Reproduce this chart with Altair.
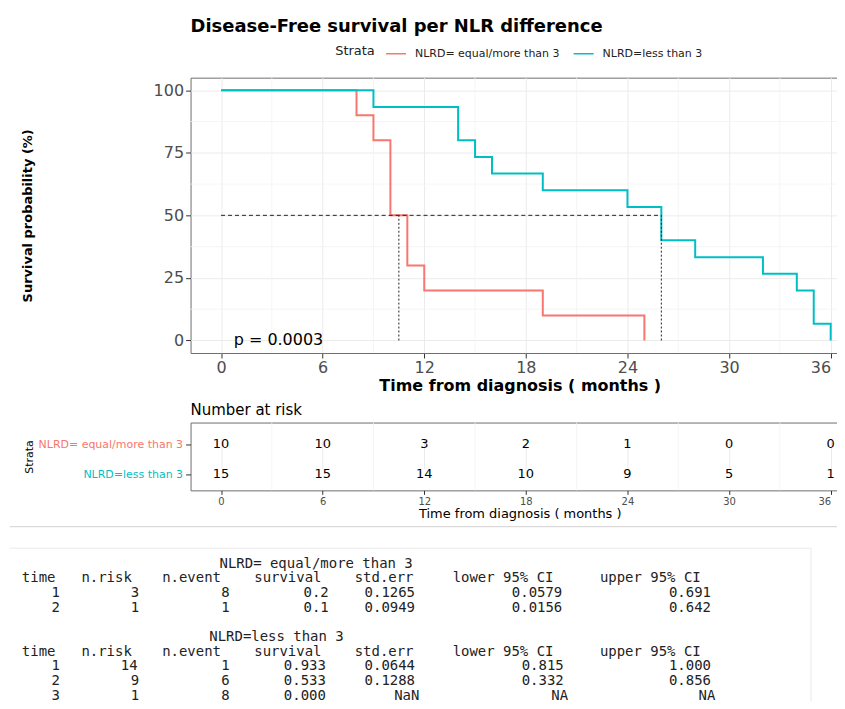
import altair as alt
import pandas as pd

FONT = "DejaVu Sans"
MONO = "DejaVu Sans Mono"

# ---------------- data ----------------
chart_title = "Disease-Free survival per NLR difference"
risk_title = "Number at risk"
x_title = "Time from diagnosis ( months )"
y_title = "Survival probability (%)"

strata = ["NLRD= equal/more than 3", "NLRD=less than 3"]
strata_colors = ["#F8766D", "#00BFC4"]

red_time = [0, 8, 9, 10, 11, 12, 19, 25]
red_surv = [100, 90, 80, 50, 30, 20, 10, 0]
teal_time = [0, 9, 14, 15, 16, 19, 24, 26, 28, 32, 34, 35, 36]
teal_surv = [100, 93.3, 80, 73.3, 66.7, 60, 53.3, 40, 33.3, 26.7, 20, 6.7, 0]

median_time = [10.5, 26]
median_surv = [50, 50]

p_label = ["p = 0.0003"]
p_time = [0.75]
p_surv = [0]

risk_time = [0, 6, 12, 18, 24, 30, 36]
risk_red = [10, 10, 3, 2, 1, 0, 0]
risk_teal = [15, 15, 14, 10, 9, 5, 1]

x_ticks = [0, 6, 12, 18, 24, 30, 36]
x_minor = [3, 9, 15, 21, 27, 33]
y_ticks = [0, 25, 50, 75, 100]
y_minor = [12.5, 37.5, 62.5, 87.5]

table_header = ["time", "n.risk", "n.event", "survival", "std.err",
                "lower 95% CI", "upper 95% CI"]
table_groups = ["NLRD= equal/more than 3", "NLRD=less than 3"]
table_rows = [
    [["1", "3", "8", "0.2", "0.1265", "0.0579", "0.691"],
     ["2", "1", "1", "0.1", "0.0949", "0.0156", "0.642"]],
    [["1", "14", "1", "0.933", "0.0644", "0.815", "1.000"],
     ["2", "9", "6", "0.533", "0.1288", "0.332", "0.856"],
     ["3", "1", "8", "0.000", "NaN", "NA", "NA"]],
]

# character columns of the console print-out (layout)
col_end = [4, 11, 19, 28, 36, 49, 62]
group_start = 15

# ---------------- tables ----------------
km = pd.DataFrame({
    "time": red_time + teal_time,
    "surv": red_surv + teal_surv,
    "strata": [strata[0]] * len(red_time) + [strata[1]] * len(teal_time),
})
med_h = pd.DataFrame({"time": [0], "t1": [max(median_time)], "surv": [median_surv[0]]})
med_v = pd.DataFrame({"time": median_time, "surv": [0] * len(median_time), "s1": median_surv})
pval = pd.DataFrame({"time": p_time, "surv": p_surv, "label": p_label})
risk = pd.DataFrame({
    "time": risk_time * 2,
    "strata": [strata[0]] * len(risk_time) + [strata[1]] * len(risk_time),
    "n": risk_red + risk_teal,
})

# console text: each field is centred on the character span it occupies
cells = []
line = 0
for g, rows in zip(table_groups, table_rows):
    cells.append({"line": line, "char": group_start + len(g) / 2, "txt": g})
    line += 1
    for h, e in zip(table_header, col_end):
        cells.append({"line": line, "char": e - len(h) / 2, "txt": h})
    line += 1
    for r in rows:
        for v, e in zip(r, col_end):
            cells.append({"line": line, "char": e - len(v) / 2, "txt": v})
        line += 1
    line += 1
cells = pd.DataFrame(cells)

W = 656

# ---------------- main KM plot ----------------
xs = alt.Scale(domain=[-1.8, 36.845], nice=False, zero=False)
ys = alt.Scale(domain=[-5, 105], nice=False, zero=False)

x_axis = alt.Axis(values=x_ticks, title=x_title,
                  titleFontSize=16, titleFontWeight="bold", titleColor="black",
                  titlePadding=2, titleX=330, labelFontSize=16, labelColor="#4D4D4D",
                  labelPadding=2, tickSize=5, tickColor="#333333", domain=False,
                  grid=True, gridColor="#EBEBEB", labelFlush=16)
y_axis = alt.Axis(values=y_ticks, title=y_title,
                  titleFontSize=13, titleFontWeight="bold", titleColor="black",
                  titleX=-156, titleY=138, labelFontSize=16, labelColor="#4D4D4D",
                  labelPadding=2, tickSize=5, tickColor="#333333", domain=False,
                  grid=True, gridColor="#EBEBEB")

XE = alt.X("time:Q", scale=xs, axis=x_axis, title=x_title)
YE = alt.Y("surv:Q", scale=ys, axis=y_axis, title=y_title)

legend = alt.Legend(orient="none", legendX=145, legendY=-35, direction="horizontal",
                    titleOrient="left", title="Strata", titleFontSize=13,
                    titleFontWeight="normal", titleColor="#222222", titlePadding=10,
                    labelFontSize=11, labelColor="#222222", labelOffset=8,
                    labelLimit=300, columnPadding=11, symbolType="stroke",
                    symbolSize=400, symbolStrokeWidth=1.5)

one = pd.DataFrame({"k": [0]})

gx = alt.Chart(pd.DataFrame({"time": x_minor})).mark_rule(
    color="#F3F3F3", strokeWidth=0.8).encode(x=XE)
gy = alt.Chart(pd.DataFrame({"surv": y_minor})).mark_rule(
    color="#F3F3F3", strokeWidth=0.8).encode(y=YE)
lines = alt.Chart(km).mark_line(interpolate="step-after", strokeWidth=2).encode(
    x=XE, y=YE,
    color=alt.Color("strata:N", scale=alt.Scale(domain=strata, range=strata_colors),
                    legend=legend),
)
mh = alt.Chart(med_h).mark_rule(color="#222222", strokeWidth=1, strokeDash=[4, 3]).encode(
    x=XE, x2="t1:Q", y=YE)
mv = alt.Chart(med_v).mark_rule(color="#222222", strokeWidth=1, strokeDash=[2, 2]).encode(
    x=XE, y=YE, y2="s1:Q")
pt = alt.Chart(pval).mark_text(align="left", baseline="middle", fontSize=16,
                               color="black").encode(x=XE, y=YE, text="label:N")
title_mark = alt.Chart(one).mark_text(
    text=chart_title, fontSize=18, fontWeight="bold", color="black",
    align="left", baseline="alphabetic").encode(x=alt.value(0), y=alt.value(-46))

main = alt.layer(gx, gy, lines, mh, mv, pt, title_mark).properties(width=W, height=276)

# ---------------- risk table ----------------
risk_x_axis = alt.Axis(values=x_ticks, title=x_title,
                       titleFontSize=13, titleFontWeight="normal", titleColor="black",
                       titlePadding=1, titleX=330, labelFontSize=10, labelColor="#4D4D4D",
                       labelPadding=2, tickSize=4, tickColor="#333333", domain=False,
                       grid=True, gridColor="#EBEBEB", labelFlush=16)
risk_y_axis = alt.Axis(title="Strata", titleFontSize=11, titleFontWeight="normal",
                       titleColor="black", titleX=-156.5, titleY=34,
                       labelFontSize=11,
                       labelColor={"condition": {"test": f"datum.value === '{strata[0]}'",
                                                 "value": strata_colors[0]},
                                   "value": strata_colors[1]},
                       labelPadding=3, tickSize=5, tickColor="#333333",
                       domain=False, grid=False, labelLimit=300)

RX = alt.X("time:Q", scale=xs, axis=risk_x_axis, title=x_title)

rgrid = alt.Chart(pd.DataFrame({"time": x_minor})).mark_rule(
    color="#F3F3F3", strokeWidth=0.8).encode(x=RX)
rtext = alt.Chart(risk).mark_text(fontSize=13, color="black", baseline="middle").encode(
    x=RX,
    y=alt.Y("strata:N", sort=strata,
            scale=alt.Scale(type="point", domain=strata, range=[22, 52], padding=0),
            axis=risk_y_axis),
    text="n:Q")
rtitle = alt.Chart(one).mark_text(
    text=risk_title, fontSize=15, color="black", align="left",
    baseline="alphabetic").encode(x=alt.value(0), y=alt.value(-7.7))
risk_chart = alt.layer(rgrid, rtext, rtitle).properties(width=W, height=68)

# ---------------- console print-out ----------------
tx = alt.Scale(domain=[0, 62], range=[-175, 529], nice=False, zero=False)
ty = alt.Scale(domain=[0, 9], range=[3.9, 136.2], nice=False, zero=False)

sep = alt.Chart(one).mark_rule(color="#DADADA", strokeWidth=1.2).encode(
    x=alt.value(-181.4), x2=alt.value(670), y=alt.value(-33.4))
box_top = alt.Chart(one).mark_rule(color="#EAEAEA", strokeWidth=1).encode(
    x=alt.value(-181.4), x2=alt.value(622), y=alt.value(-11.7))
box_right = alt.Chart(one).mark_rule(color="#EAEAEA", strokeWidth=1).encode(
    x=alt.value(622), y=alt.value(-11.7), y2=alt.value(141.6))
cel = alt.Chart(cells).mark_text(font=MONO, fontSize=14, color="#222222",
                                 align="center", baseline="middle").encode(
    x=alt.X("char:Q", scale=tx, axis=None),
    y=alt.Y("line:Q", scale=ty, axis=None), text="txt:N")
text_chart = alt.layer(sep, box_top, box_right, cel).properties(
    width=W, height=130, view=alt.ViewBackground(stroke="transparent"))

chart = alt.vconcat(main, risk_chart, text_chart, spacing=69.7, bounds="flush").properties(
    padding={"top": 8, "left": 0, "right": -24, "bottom": -3}
).configure(font=FONT).configure_view(stroke="#6E6E6E", strokeWidth=1).configure_axis(
    labelFont=FONT, titleFont=FONT).configure_legend(labelFont=FONT, titleFont=FONT)

chart.save("out.html", embed_options={"renderer": "svg", "actions": False})
